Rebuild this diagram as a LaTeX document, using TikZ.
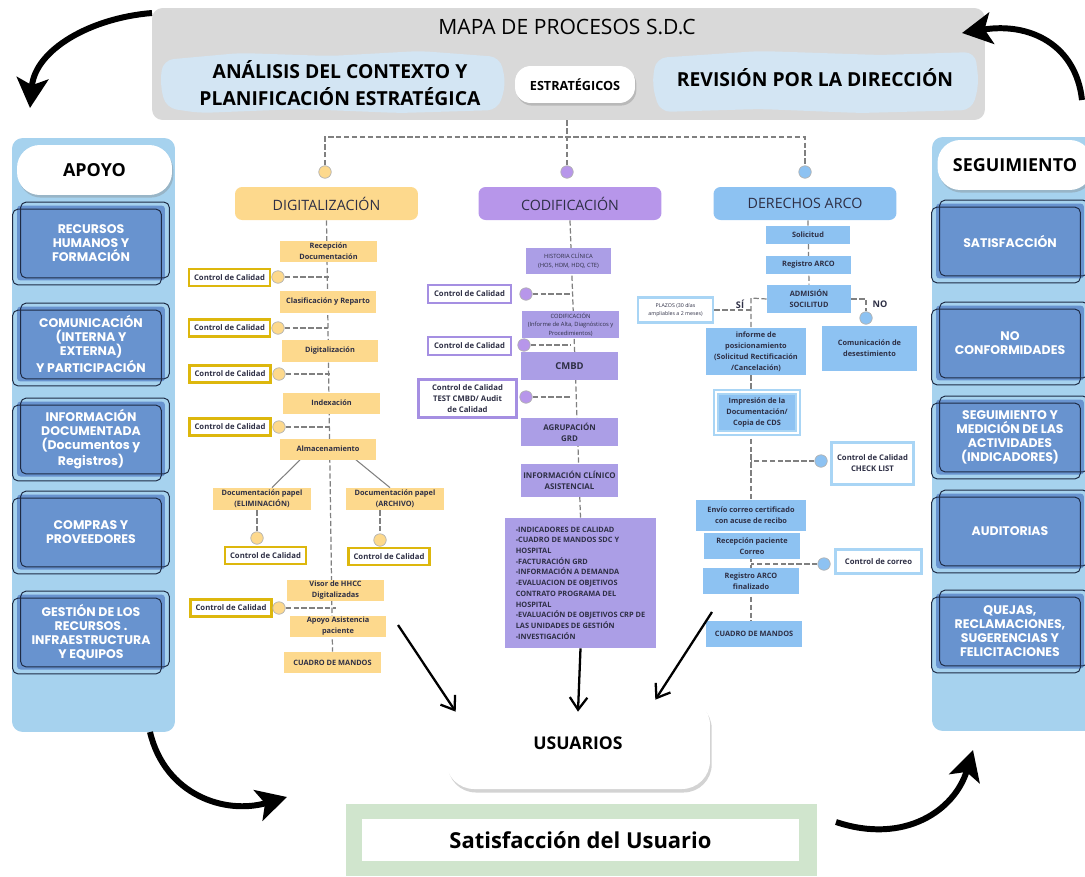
\documentclass[tikz,border=0pt]{standalone}
\usepackage{fontspec}
\setmainfont{Open Sans}
\newfontfamily\geo{Poppins}
\usetikzlibrary{positioning, shadows, backgrounds, arrows.meta}
\definecolor{hdrgray}{HTML}{D9D9D9}
\definecolor{patch}{HTML}{D3E5F3}
\definecolor{panelblue}{HTML}{A6D2EE}
\definecolor{supblue}{HTML}{6893CF}
\definecolor{navy}{HTML}{1E2B45}
\definecolor{dyellow}{HTML}{FDD98D}
\definecolor{dgold}{HTML}{DDB70D}
\definecolor{cpurp}{HTML}{B796EA}
\definecolor{cbox}{HTML}{AB9EE6}
\definecolor{cline}{HTML}{A58FE2}
\definecolor{ablue}{HTML}{8DC2F2}
\definecolor{alight}{HTML}{A9D5F5}
\definecolor{sgreen}{HTML}{D0E5CD}
\definecolor{ink}{HTML}{2E2F45}
\definecolor{dashgray}{HTML}{808080}
\newcommand\fsz[2]{\fontsize{#1}{#2}\selectfont}
\tikzset{
  every node/.style={inner sep=0pt, align=center, text=ink},
  panel/.style={fill=panelblue, rounded corners=6pt, minimum width=3.26cm, minimum height=11.88cm},
  pill/.style={fill=white, rounded corners=13pt, minimum width=3.1cm, minimum height=1cm, font=\bfseries\fsz{10.2}{12}, text=black, drop shadow={opacity=0.35, shadow xshift=0.8pt, shadow yshift=-1.5pt}},
  supbox/.style={fill=supblue, rounded corners=2pt, minimum width=2.96cm, minimum height=1.5cm, text=white, font=\geo\bfseries\fsz{7.1}{8}},
  supedge/.style={draw=navy, line width=0.55pt, rounded corners=3pt},
  colhead/.style={rounded corners=4pt, minimum width=3.66cm, minimum height=0.66cm, font=\fsz{8.1}{9}},
  dstep/.style={fill=dyellow, minimum width=1.94cm, minimum height=0.42cm, font=\bfseries\fsz{4.2}{6.2}},
  cstep/.style={fill=cbox, minimum width=1.94cm, minimum height=0.56cm, font=\bfseries\fsz{4.5}{6.3}},
  astep/.style={fill=ablue, minimum width=1.92cm, minimum height=0.52cm, font=\bfseries\fsz{4.2}{6.2}},
  dcheck/.style={fill=white, draw=dgold, line width=1.3pt, minimum width=1.62cm, minimum height=0.34cm, font=\bfseries\fsz{4.4}{6}},
  ccheck/.style={fill=white, draw=cline, line width=1.3pt, minimum width=1.66cm, minimum height=0.36cm, font=\bfseries\fsz{4.4}{6.2}},
  acheck/.style={fill=white, draw=alight, line width=1.6pt, font=\bfseries\fsz{4.4}{6.2}},
  ddot/.style={circle, fill=dyellow, draw=gray!60, line width=0.4pt, minimum size=0.25cm},
  cdot/.style={circle, fill=cpurp, draw=gray!60, line width=0.4pt, minimum size=0.25cm},
  adot/.style={circle, fill=ablue, draw=gray!60, line width=0.4pt, minimum size=0.25cm},
  link/.style={draw=dashgray, dash pattern=on 3pt off 1.5pt, line width=0.7pt},
  solidlink/.style={draw=dashgray, line width=0.6pt},
  flow/.style={line width=1.3pt, -{Straight Barb[length=7pt, width=10pt]}},
  swoosh/.style={line width=3.4pt, -{Stealth[length=17pt, width=18pt, inset=4pt]}}
}

\begin{document}
\begin{tikzpicture}[x=0.02cm, y=-0.02cm]
  \useasboundingbox (0,0) rectangle (1085,876);

  % estrategicos
  \node (mapa) [fill=hdrgray, rounded corners=6pt, minimum width=16.66cm, minimum height=2.24cm] at (568.5,64) {};
  \fill[patch, rounded corners=6pt] (163,60) -- (240,53) -- (330,56) -- (420,51) -- (500,57) -- (506,84) -- (498,110) -- (400,113) -- (300,109) -- (200,113) -- (166,108) -- (160,84) -- cycle;
  \fill[patch, rounded corners=6pt] (656,58) -- (760,51) -- (880,55) -- (975,52) -- (979,84) -- (972,110) -- (860,113) -- (760,109) -- (660,112) -- (652,85) -- cycle;
  \node (titulo) [font=\fsz{12}{14}, text=black] at (567,27) {MAPA DE PROCESOS S.D.C};
  \node (analisis) [font=\bfseries\fsz{11}{15.4}, text=black] at (340,83) {ANÁLISIS DEL CONTEXTO Y\\PLANIFICACIÓN ESTRATÉGICA};
  \node (estrat) [pill, minimum width=2.4cm, minimum height=0.74cm, rounded corners=9pt, font=\bfseries\fsz{7.2}{9}] at (575,84.5) {ESTRATÉGICOS};
  \node (revision) [font=\bfseries\fsz{11}{14}, text=black] at (815,78) {REVISIÓN POR LA DIRECCIÓN};

  % apoyo y seguimiento
  \node (apoyopanel) [panel] at (93.5,435) {};
  \node (seguipanel) [panel] at (1013.5,434) {};
  \node (apoyo) [pill] at (94.5,170) {APOYO};
  \node (segui) [pill] at (1015,165) {SEGUIMIENTO};
  \node (s1) [supbox] at (91,243) {RECURSOS\\HUMANOS Y\\FORMACIÓN};
  \node (s2) [supbox] at (91,344) {COMUNICACIÓN\\(INTERNA Y\\EXTERNA)\\Y PARTICIPACIÓN};
  \node (s3) [supbox] at (91,439) {INFORMACIÓN\\DOCUMENTADA\\(Documentos y\\Registros)};
  \node (s4) [supbox] at (91,532) {COMPRAS Y\\PROVEEDORES};
  \node (s5) [supbox] at (91,632) {GESTIÓN DE LOS\\RECURSOS .\\INFRAESTRUCTURA\\Y EQUIPOS};
  \node (r1) [supbox] at (1010,241) {SATISFACCIÓN};
  \node (r2) [supbox] at (1010,343) {NO\\CONFORMIDADES};
  \node (r3) [supbox] at (1010,437) {SEGUIMIENTO Y\\MEDICIÓN DE LAS\\ACTIVIDADES\\(INDICADORES)};
  \node (r4) [supbox] at (1010,531) {AUDITORIAS};
  \node (r5) [supbox] at (1010,631) {QUEJAS,\\RECLAMACIONES,\\SUGERENCIAS Y\\FELICITACIONES};
  \foreach \b in {s1,s2,s3,s4,s5,r1,r2,r3,r4,r5} {
    \draw[supedge] ([shift={(4,-3)}]\b.south west) rectangle ([shift={(4,-3)}]\b.north east);
    \draw[supedge] ([shift={(-4,4)}]\b.south west) rectangle ([shift={(-4,4)}]\b.north east);
  }

  % cabeceras de columna
  \node (dig) [colhead, fill=dyellow] at (326.5,203.5) {DIGITALIZACIÓN};
  \node (cod) [colhead, fill=cpurp] at (570,203.5) {CODIFICACIÓN};
  \node (arco) [colhead, fill=ablue] at (805,203.5) {DERECHOS ARCO};
  \node (pd) [ddot] at (325,172) {};
  \node (pc) [cdot] at (567,172) {};
  \node (pa) [adot] at (805,172) {};
  \coordinate (reparto) at (567,137);

  % digitalizacion
  \node (d1) [dstep] at (328.5,251.5) {Recepción\\Documentación};
  \node (d2) [dstep, minimum height=0.44cm] at (328,302) {Clasificación y Reparto};
  \node (d3) [dstep, minimum height=0.44cm] at (330,351) {Digitalización};
  \node (d4) [dstep] at (331.5,403) {Indexación};
  \node (d5) [dstep] at (328,449) {Almacenamiento};
  \node (d6) [dstep, minimum width=1.96cm, minimum height=0.44cm] at (262,499) {Documentación papel\\(ELIMINACIÓN)};
  \node (d7) [dstep, minimum width=1.96cm, minimum height=0.44cm] at (395,499) {Documentación papel\\(ARCHIVO)};
  \node (d8) [dstep] at (335.5,590.5) {Visor de HHCC\\Digitalizadas};
  \node (d9) [dstep] at (338,626.5) {Apoyo Asistencia\\paciente};
  \node (d10) [dstep] at (332.5,662.5) {CUADRO DE MANDOS};
  \node (qd1) [dcheck] at (229.5,277.5) {Control de Calidad};
  \node (qd2) [dcheck] at (229.5,328) {Control de Calidad};
  \node (qd3) [dcheck] at (230,374) {Control de Calidad};
  \node (qd4) [dcheck] at (230,427) {Control de Calidad};
  \node (qd6) [dcheck] at (265.5,555.5) {Control de Calidad};
  \node (qd7) [dcheck] at (389,556.5) {Control de Calidad};
  \node (qd8) [dcheck] at (231,608) {Control de Calidad};
  \node (kd1) [ddot] at (278,277) {};
  \node (kd2) [ddot] at (278,328) {};
  \node (kd3) [ddot] at (279,374) {};
  \node (kd4) [ddot] at (279,427) {};
  \node (kd6) [ddot] at (257,538) {};
  \node (kd7) [ddot] at (380,540) {};
  \node (kd8) [ddot] at (279,608) {};

  % codificacion
  \node (c1) [cstep, minimum width=1.7cm, minimum height=0.52cm, font=\fsz{3.3}{5.2}] at (568.5,261) {HISTORIA CLÍNICA\\(HOS, HDM, HDQ, CTE)};
  \node (c2) [cstep, minimum height=0.54cm, font=\fsz{3.3}{4.8}] at (570.5,324.5) {CODIFICACIÓN\\(Informe de Alta, Diagnósticos y\\Procedimientos)};
  \node (c3) [cstep, font=\bfseries\fsz{5.4}{6}] at (569.5,366) {CMBD};
  \node (c4) [cstep] at (569.5,432) {AGRUPACIÓN\\GRD};
  \node (c5) [cstep, minimum height=0.66cm] at (569.5,480.5) {INFORMACIÓN CLÍNICO\\ASISTENCIAL};
  \node (c6) [cstep, minimum width=3.02cm, minimum height=2.6cm, align=left, font=\bfseries\fsz{4.2}{6.1}] at (580.5,583) {-INDICADORES DE CALIDAD\\-CUADRO DE MANDOS SDC Y\\HOSPITAL\\-FACTURACIÓN GRD\\-INFORMACIÓN A DEMANDA\\-EVALUACION DE OBJETIVOS\\CONTRATO PROGRAMA DEL\\HOSPITAL\\-EVALUACIÓN DE OBJETIVOS CRP DE\\LAS UNIDADES DE GESTIÓN\\-INVESTIGACIÓN};
  \node (qc1) [ccheck] at (469.5,294) {Control de Calidad};
  \node (qc2) [ccheck] at (469.5,346) {Control de Calidad};
  \node (qc3) [ccheck, minimum width=1.96cm, minimum height=0.76cm] at (467.5,398.5) {Control de Calidad\\TEST CMBD/ Audit\\de Calidad};
  \node (kc1) [cdot] at (526,294) {};
  \node (kc2) [cdot] at (524,345) {};
  \node (kc3) [cdot] at (526,397) {};

  % derechos arco
  \node (a1) [astep, minimum width=1.68cm, minimum height=0.36cm] at (808,235) {Solicitud};
  \node (a2) [astep, minimum width=1.7cm, minimum height=0.36cm] at (808.5,265) {Registro ARCO};
  \node (a3) [astep, minimum width=1.68cm, minimum height=0.56cm] at (809,299) {ADMISIÓN\\SOCILITUD};
  \node (plazo) [acheck, minimum width=1.5cm, minimum height=0.5cm, font=\fsz{3}{4.6}] at (675.5,310) {PLAZOS (30 días\\ampliables a 2 meses)};
  \node (a4) [astep, minimum width=2cm, minimum height=0.94cm] at (756,351.5) {informe de\\posicionamiento\\(Solicitud Rectificación\\/Cancelación)};
  \node (a5) [astep, minimum width=1.9cm, minimum height=0.9cm] at (869.5,348.5) {Comunicación de\\desestimiento};
  \node (a6) [astep, minimum width=1.64cm, minimum height=0.82cm, draw=alight, double=white, line width=1pt, double distance=1.2pt] at (757,412.5) {Impresión de la\\Documentación/\\Copia de CDS};
  \node (qk) [acheck, minimum width=1.64cm, minimum height=0.84cm] at (872.5,463.5) {Control de Calidad\\CHECK LIST};
  \node (a7) [astep, minimum width=2.2cm, minimum height=0.62cm] at (751,515.5) {Envío correo certificado\\con acuse de recibo};
  \node (a8) [astep] at (752,546) {Recepción paciente\\Correo};
  \node (a9) [astep] at (751,581) {Registro ARCO\\finalizado};
  \node (qm) [acheck, minimum width=1.72cm, minimum height=0.48cm] at (878.5,561.5) {Control de correo};
  \node (a10) [astep] at (754,634) {CUADRO DE MANDOS};
  \node (ce) [adot] at (866,318) {};
  \node (ck) [adot] at (821,461) {};
  \node (cm) [adot] at (824,564) {};
  \node (si) [font=\bfseries\fsz{5.2}{6}] at (740,304) {SÍ};
  \node (no) [font=\bfseries\fsz{5.2}{6}] at (880,304) {NO};
  \coordinate (sijunta) at (751,298);

  % usuarios
  \node (usr) [fill=white, rounded corners=16pt, minimum width=5.28cm, minimum height=1.84cm, font=\bfseries\fsz{10}{12}, text=black, drop shadow={opacity=0.35, shadow xshift=1pt, shadow yshift=-2pt}] at (578,743) {USUARIOS};
  \node (verde) [fill=sgreen, minimum width=9.42cm, minimum height=1.44cm] at (581.5,840) {};
  \node (satis) [fill=white, minimum width=8.74cm, minimum height=0.84cm, font=\bfseries\fsz{12.5}{14}, text=black] at (580.5,840) {Satisfacción del Usuario};

  % conexiones
  \begin{scope}[on background layer]
    \draw[link] (pc |- mapa.south) -- (pc);
    \draw[link] (pd) |- (reparto) -| (pa);
    \draw[link] (dig.south) -- (d10.north);
    \draw[link] (kd1) -- (kd1 -| d1);
    \draw[link] (kd2) -- (kd2 -| d2);
    \draw[link] (kd3) -- (kd3 -| d3);
    \draw[link] (kd4) -- (kd4 -| d4);
    \draw[link] (kd8) -- (kd8 -| d8);
    \draw[solidlink] ([xshift=-0.56cm]d5.south) -- ([xshift=0.2cm]d6.north);
    \draw[solidlink] ([xshift=0.56cm]d5.south) -- ([xshift=-0.1cm]d7.north);
    \draw[link] (kd6 |- d6.south) -- (kd6);
    \draw[link] (kd7 |- d7.south) -- (kd7);
    \draw[link] (cod.south) -- (c6.north);
    \draw[link] (kc1) -- (kc1 -| c2);
    \draw[link] (kc2) -- (kc2 -| c2);
    \draw[link] (kc3) -- (kc3 -| c2);
    \draw[link] (a1 |- arco.south) -- (a3.north);
    \draw[link] (a3.west) -- (sijunta) -- (sijunta |- a4.north);
    \draw[link] (plazo.east) -- (plazo.east -| sijunta);
    \draw[link] (a3.east) -| (ce);
    \draw[link] (sijunta |- a4.south) -- (sijunta |- a10.north);
    \draw[link] (ck) -- (ck -| sijunta);
    \draw[link] (cm) -- (cm -| sijunta);
  \end{scope}

  % flechas hacia usuarios
  \coordinate (desdedig) at (398,625);
  \coordinate (desdearco) at (712,612);
  \draw[flow] (desdedig) -- ([xshift=0.2cm, yshift=-0.3cm]usr.north west);
  \draw[flow] (c6.south) -- ([yshift=-0.3cm]usr.north);
  \draw[flow] (desdearco) -- ([xshift=-1.1cm, yshift=-0.06cm]usr.north east);

  % ciclo
  \coordinate (tl0) at (152,13);
  \coordinate (tl1) at (30,108);
  \coordinate (tr0) at (1082,100);
  \coordinate (tr1) at (962,33);
  \coordinate (bl0) at (150,732);
  \coordinate (bl1) at (287,797);
  \coordinate (br0) at (836,822);
  \coordinate (br1) at (973,750);
  \draw[swoosh] (tl0) .. controls (90,18) and (35,50) .. (tl1);
  \draw[swoosh] (tr0) .. controls (1076,45) and (1030,22) .. (tr1);
  \draw[swoosh] (bl0) .. controls (165,795) and (225,815) .. (bl1);
  \draw[swoosh] (br0) .. controls (905,845) and (955,810) .. (br1);
\end{tikzpicture}
\end{document}
